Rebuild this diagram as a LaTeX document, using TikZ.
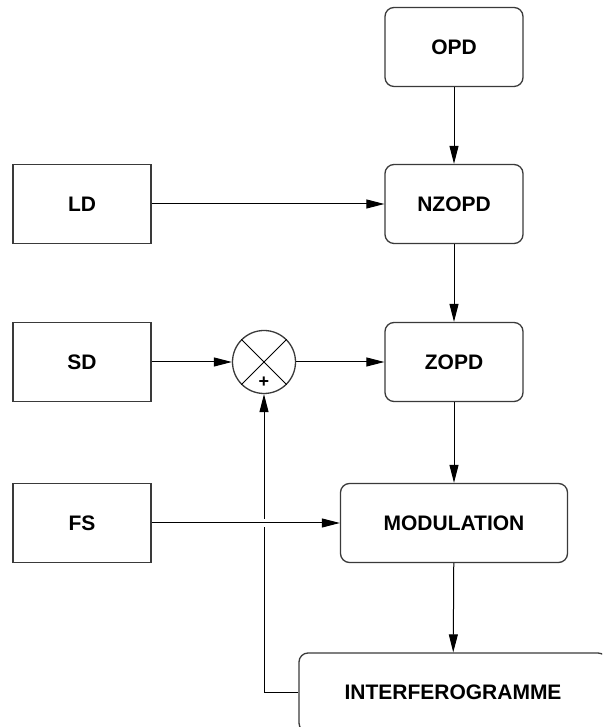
\documentclass[tikz,border=0pt]{standalone}
\usepackage{fontspec}
\setmainfont{Liberation Sans}
\usetikzlibrary{arrows.meta,calc,positioning}
\definecolor{kenarGri}{HTML}{3A3A3A}

\begin{document}
\begin{tikzpicture}[x=1pt,y=1pt,
  kutu/.style={draw=kenarGri,line width=1.3pt,minimum width=138pt,minimum height=79pt,
    inner sep=0pt,font=\fontsize{21}{25}\selectfont\bfseries},
  yuvarlakKutu/.style={kutu,rounded corners=9pt},
  ok/.style={-{Triangle[length=18pt,width=9pt]},line width=1pt}]
\useasboundingbox (0,0) rectangle (602,727);
\clip (0,0) rectangle (602,727);
% right column
\node[yuvarlakKutu] (opd) at (454,680) {OPD};
\node[yuvarlakKutu] (nzopd) at (454,523) {NZOPD};
\node[yuvarlakKutu] (zopd) at (454,365) {ZOPD};
\node[yuvarlakKutu,minimum width=227pt] (modul) at (454,204) {MODULATION};
\node[yuvarlakKutu,minimum width=308pt] (interf) at (453,34.5) {INTERFEROGRAMME};
% left column
\node[kutu] (ld) at (82,523) {LD};
\node[kutu] (sd) at (82,365) {SD};
\node[kutu] (fs) at (82,204) {FS};
% summing point
\node[draw=kenarGri,line width=1.3pt,circle,minimum size=63pt,inner sep=0pt] (topla) at (264,365) {};
\draw[line width=1pt] (topla.north west) -- (topla.south east) (topla.north east) -- (topla.south west);
\node[font=\fontsize{18}{20}\selectfont\bfseries] (arti) at (264,345) {+};
% connectors
\draw[ok] (opd) -- (nzopd);
\draw[ok] (ld) -- (nzopd);
\draw[ok] (nzopd) -- (zopd);
\draw[ok] (sd) -- (topla);
\draw[ok] (topla) -- (zopd);
\draw[ok] (zopd) -- (modul);
\draw[ok] (modul) -- (interf);
\coordinate (kesisim) at (topla.south |- fs.east);
\draw[line width=1pt] (interf.west) -| ([yshift=-4pt]kesisim);
\draw[ok] ([yshift=4pt]kesisim) -- (topla.south);
\draw[ok] (fs) -- (modul);
\end{tikzpicture}
\end{document}
